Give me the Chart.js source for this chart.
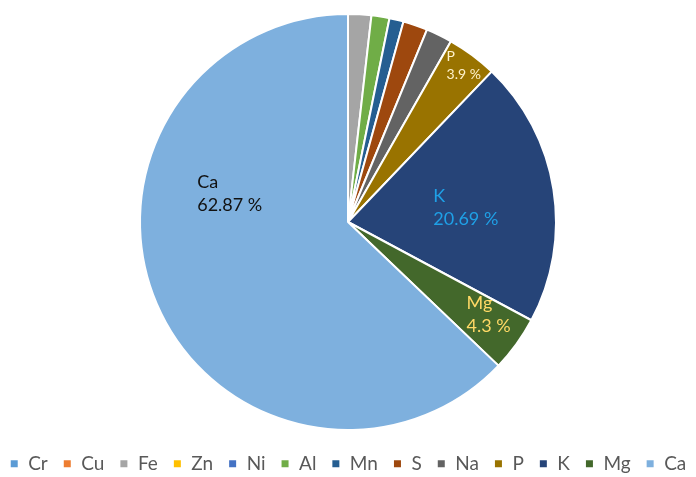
<!DOCTYPE html>
<html>
<head>
<meta charset="utf-8">
<script src="https://cdn.jsdelivr.net/npm/chart.js@4"></script>
<style>
  html, body { margin: 0; padding: 0; background: #fff; }
  #wrap { width: 696px; height: 477px; position: relative; }
</style>
</head>
<body>
<div id="wrap"><canvas id="pie"></canvas></div>
<script>
// element share of the sample, %
const elements = ['Cr', 'Cu', 'Fe', 'Zn', 'Ni', 'Al', 'Mn', 'S', 'Na', 'P', 'K', 'Mg', 'Ca'];
const shares = [0, 0, 1.8, 0, 0, 1.4, 1.1, 1.9, 2.04, 3.9, 20.69, 4.3, 62.87];
const sliceColors = ['#5B9BD5', '#ED7D31', '#A5A5A5', '#FFC000', '#4472C4', '#70AD47',
  '#255E91', '#9E480E', '#636363', '#997300', '#264478', '#43682B', '#7EB0DE'];

// which slices carry a label, and how the label text is coloured
const labelled = ['P', 'K', 'Mg', 'Ca'];
const labelColors = { P: '#FFF2CC', K: '#1FA0E6', Mg: '#FFD966', Ca: '#111111' };
const labelSize = { P: 14, K: 18, Mg: 18, Ca: 18 };
// left edge / vertical middle of the label block, in units of the pie radius
const labelOffset = { P: [0.474, -0.751], K: [0.41, -0.069], Mg: [0.57, 0.447], Ca: [-0.725, -0.136] };

const sliceLabels = {
  id: 'sliceLabels',
  afterDatasetsDraw(chart) {
    const ctx = chart.ctx;
    const meta = chart.getDatasetMeta(0);
    meta.data.forEach((arc, i) => {
      const name = elements[i];
      if (!labelled.includes(name)) return;
      const r = arc.outerRadius;
      const x = arc.x + labelOffset[name][0] * r;
      const y = arc.y + labelOffset[name][1] * r;
      const size = labelSize[name];
      ctx.save();
      ctx.font = size + 'px Lato, "Open Sans", sans-serif';
      ctx.fillStyle = labelColors[name];
      ctx.textAlign = 'left';
      ctx.textBaseline = 'middle';
      const gap = size * 0.64;
      ctx.fillText(name, x, y - gap);
      ctx.fillText(shares[i] + ' %', x, y + gap);
      ctx.restore();
    });
  }
};

new Chart(document.getElementById('pie'), {
  type: 'pie',
  data: {
    labels: elements,
    datasets: [{
      data: shares,
      backgroundColor: sliceColors,
      borderColor: '#ffffff',
      borderWidth: 2
    }]
  },
  options: {
    responsive: true,
    maintainAspectRatio: false,
    animation: false,
    // negative side padding lets the one-row legend use the full width
    layout: { padding: { top: 13, bottom: 0, left: -16, right: -16 } },
    plugins: {
      legend: {
        position: 'bottom',
        maxHeight: 46,
        title: { display: true, text: ' ', font: { size: 1 }, padding: { top: 7, bottom: 0 } },
        labels: {
          boxWidth: 9,
          boxHeight: 9,
          padding: 15,
          color: '#595959',
          font: { size: 19, family: 'Lato, "Open Sans", sans-serif' }
        }
      },
      tooltip: { enabled: false }
    }
  },
  plugins: [sliceLabels]
});
</script>
</body>
</html>
